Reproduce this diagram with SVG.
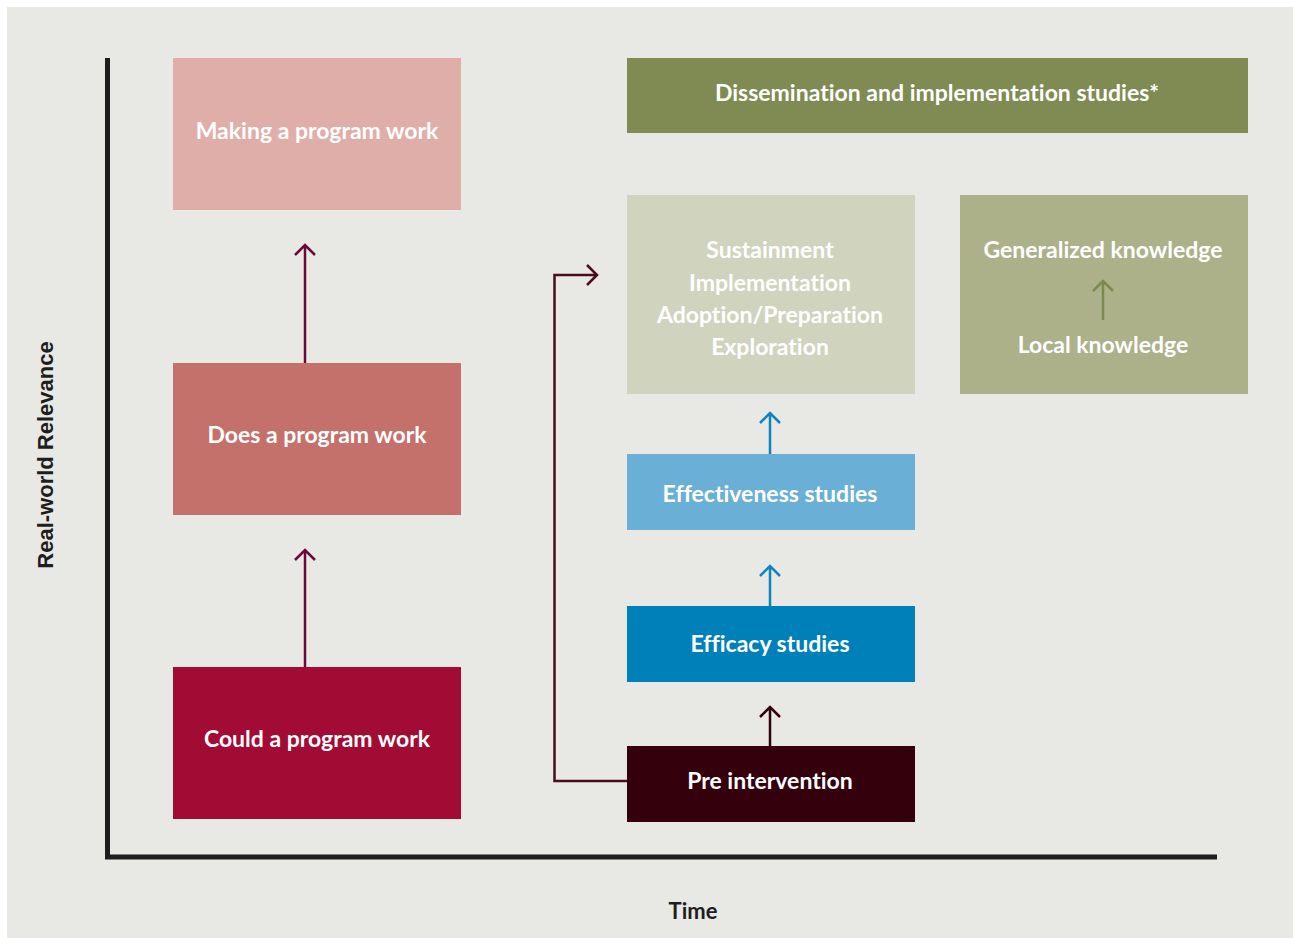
<svg xmlns="http://www.w3.org/2000/svg" width="1293" height="938" viewBox="0 0 1293 938">
<defs>
<style>
.t{font-family:Lato,"Open Sans","Liberation Sans",sans-serif;font-weight:700;font-size:23px;fill:#ffffff;text-anchor:middle;font-variant-ligatures:none;font-feature-settings:"liga" 0,"dlig" 0}
.ax{font-family:"Liberation Sans",Arial,sans-serif;font-weight:700;font-size:22px;fill:#1e1e1e;text-anchor:middle}
.tm{font-family:Lato,"Liberation Sans",sans-serif;font-weight:700;font-size:22px;fill:#1e1e1e;text-anchor:middle}
.c{fill:none;stroke-width:2.5}
</style>
</defs>
<rect x="0" y="0" width="1293" height="938" fill="#ffffff"/>
<rect x="7" y="7" width="1286" height="931" fill="#e8e8e4"/>
<g id="axes">
<polyline points="107.5,58 107.5,857 1217,857" fill="none" stroke="#1e1e1e" stroke-width="5"/>
<text class="ax" transform="translate(53,455) rotate(-90)">Real-world Relevance</text>
<text class="tm" x="693" y="919">Time</text>
</g>
<g id="connectors">
<path class="c" stroke="#6b0a3a" d="M305,363 V245 M295,255 L305,245 L315,255"/>
<path class="c" stroke="#6b0a3a" d="M305,667 V550 M295,560 L305,550 L315,560"/>
<path class="c" stroke="#4a0d1d" d="M627,781 H554.5 V275 H597 M587,265 L597,275 L587,285"/>
<path class="c" stroke="#33000c" d="M770,746 V707 M760,717 L770,707 L780,717"/>
<path class="c" stroke="#0d85c0" d="M770,606 V566 M760,576 L770,566 L780,576"/>
<path class="c" stroke="#0d85c0" d="M770,454 V413 M760,423 L770,413 L780,423"/>
</g>
<g id="making">
<rect x="173" y="58" width="288" height="152" fill="#e0aea9"/>
<text class="t" x="317" y="139">Making a program work</text>
</g>
<g id="does">
<rect x="173" y="363" width="288" height="152" fill="#c4706b"/>
<text class="t" x="317" y="443">Does a program work</text>
</g>
<g id="could">
<rect x="173" y="667" width="288" height="152" fill="#a20b33"/>
<text class="t" x="317" y="747">Could a program work</text>
</g>
<g id="dissemination">
<rect x="627" y="58" width="621" height="75" fill="#808b53"/>
<text class="t" x="937" y="101">Dissemination and implementation studies*</text>
</g>
<g id="stages">
<rect x="627" y="195" width="288" height="199" fill="#d0d3be"/>
<text class="t" x="770" y="258">Sustainment</text>
<text class="t" x="770" y="291">Implementation</text>
<text class="t" x="770" y="323">Adoption/Preparation</text>
<text class="t" x="770" y="355">Exploration</text>
</g>
<g id="knowledge">
<rect x="960" y="195" width="288" height="199" fill="#acb18a"/>
<text class="t" x="1103" y="258">Generalized knowledge</text>
<path class="c" stroke="#7c8a50" d="M1103,320 V281 M1093,291 L1103,281 L1113,291"/>
<text class="t" x="1103" y="353">Local knowledge</text>
</g>
<g id="effectiveness">
<rect x="627" y="454" width="288" height="76" fill="#6aafd6"/>
<text class="t" x="770" y="502">Effectiveness studies</text>
</g>
<g id="efficacy">
<rect x="627" y="606" width="288" height="76" fill="#0080b8"/>
<text class="t" x="770" y="652">Efficacy studies</text>
</g>
<g id="pre">
<rect x="627" y="746" width="288" height="76" fill="#33000c"/>
<text class="t" x="770" y="789">Pre intervention</text>
</g>
</svg>
